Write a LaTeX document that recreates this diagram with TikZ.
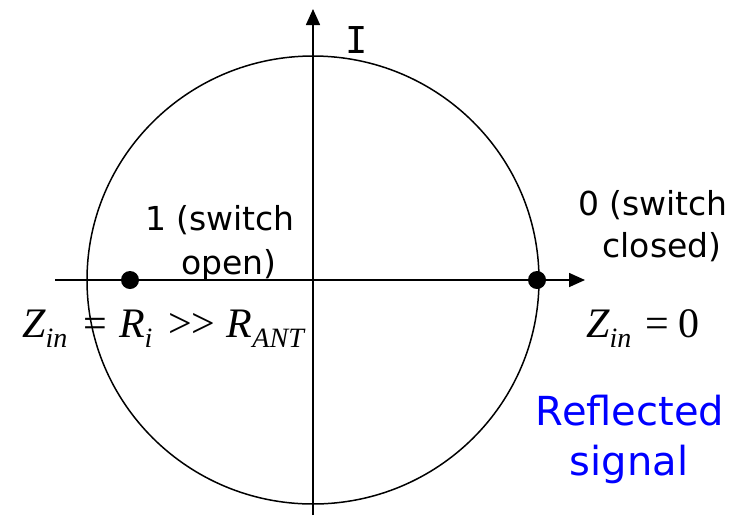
\documentclass[tikz,border=0pt]{standalone}
\usepackage{fontspec}
\usetikzlibrary{arrows.meta}
\newfontfamily\comicf{DejaVu Sans}
\newfontfamily\monof{DejaVu Sans Mono}
\newfontfamily\tmsf{Liberation Serif}
\newcommand\zsb[1]{\lower 10pt\hbox{\fontsize{28}{28}\selectfont\itshape #1}}
\tikzset{
  axis/.style={line width=1.6pt, -{Triangle[length=16pt,width=14pt]}},
  dotnode/.style={circle, fill=black, inner sep=0pt, minimum size=18pt},
  lbl/.style={inner sep=0pt, anchor=base, font=\comicf\fontsize{33}{33}\selectfont},
  bluelbl/.style={inner sep=0pt, anchor=base, text=blue, font=\comicf\fontsize{40}{40}\selectfont},
  mathlbl/.style={inner sep=0pt, anchor=base west, font=\tmsf\fontsize{42}{42}\selectfont}
}
\begin{document}
\begin{tikzpicture}[x=1pt,y=-1pt]
\useasboundingbox (0,0) rectangle (749,515);
\coordinate (O) at (313,280);
\coordinate (ybot) at (313,515);
\coordinate (ytop) at (313,9);
\coordinate (xl) at (55,280);
\coordinate (xr) at (585,280);
\draw[line width=1.5pt] (O) ellipse [x radius=226, y radius=224];
\draw[axis] (ybot) -- (ytop);
\draw[axis] (xl) -- (xr);
\node[dotnode] (d1) at (130,280) {};
\node[dotnode] (d0) at (537,280) {};
\node[inner sep=0pt, anchor=base, font=\monof\fontsize{37}{37}\selectfont] (I) at (357,53) {I};
\node[lbl] (l1a) at (220,230) {1 (switch};
\node[lbl] (l1b) at (229,274) {open)};
\node[lbl] (l0a) at (653,215) {0 (switch};
\node[lbl] (l0b) at (662,257) {closed)};
\node[bluelbl] (r1) at (630,425) {Reflected};
\node[bluelbl] (r2) at (629,475) {signal};
\node[mathlbl] (m1) at (22,337) {\itshape Z\zsb{in}\hspace{16pt}\upshape=\hspace{12pt}\itshape R\zsb{i}\hspace{16pt}\upshape{>}\kern-1pt{>}\hspace{12pt}\itshape R\zsb{ANT}};
\node[mathlbl] (m0) at (586,337) {\itshape Z\zsb{in}\hspace{14pt}\upshape=\hspace{9pt}0};
\end{tikzpicture}
\end{document}
